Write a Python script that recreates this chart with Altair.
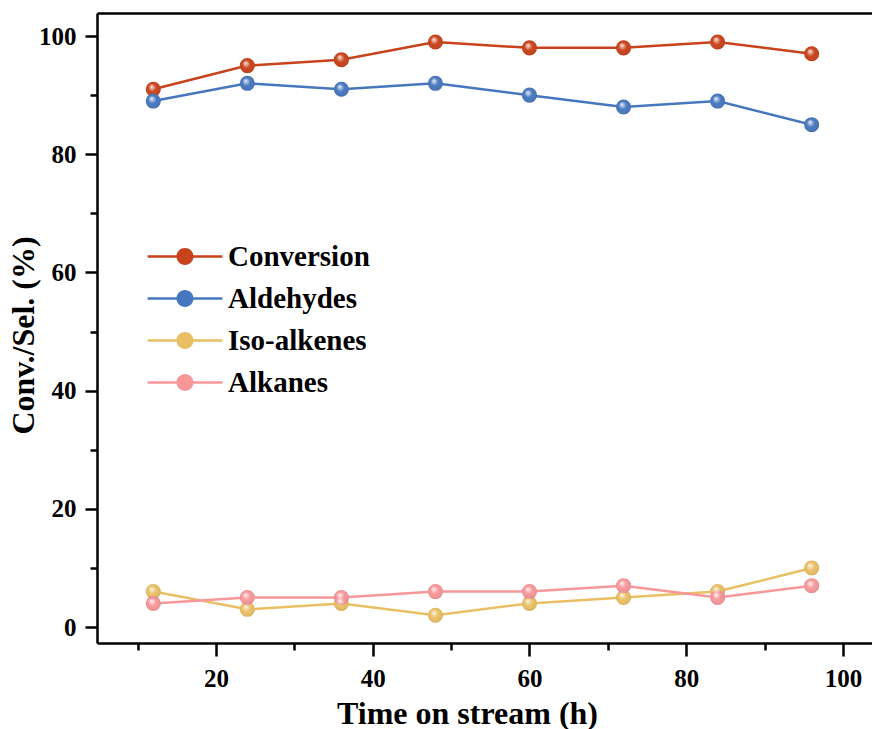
import altair as alt
import pandas as pd

# Time on stream (h) and the measured series (%)
hours = [12, 24, 36, 48, 60, 72, 84, 96]
conversion = [91, 95, 96, 99, 98, 98, 99, 97]
aldehydes = [89, 92, 91, 92, 90, 88, 89, 85]
iso_alkenes = [6, 3, 4, 2, 4, 5, 6, 10]
alkanes = [4, 5, 5, 6, 6, 7, 5, 7]

series_names = ["Conversion", "Aldehydes", "Iso-alkenes", "Alkanes"]
series_colors = ["#C8421B", "#4677BE", "#E9BF63", "#F7979A"]

x_major = [20, 40, 60, 80, 100]
x_minor = [10, 30, 50, 70, 90]
y_major = [0, 20, 40, 60, 80, 100]
y_minor = [10, 30, 50, 70, 90]

rows = []
for name, vals in zip(series_names, [conversion, aldehydes, iso_alkenes, alkanes]):
    for h, v in zip(hours, vals):
        rows.append({"hours": h, "value": v, "series": name})
df = pd.DataFrame(rows)

FONT = "Liberation Serif"

x_scale = alt.Scale(domain=[4.82, 103.7], nice=False, zero=False)
y_scale = alt.Scale(domain=[-2.7, 103.9], nice=False, zero=False)
color_scale = alt.Scale(domain=series_names, range=series_colors)

x_axis = alt.Axis(
    orient="bottom",
    values=x_major,
    tickSize=13,
    title="Time on stream (h)",
    titleX=370,
    titleY=80,
    titleBaseline="alphabetic",
    labelPadding=10,
    grid=False,
)
y_axis = alt.Axis(
    orient="left",
    values=y_major,
    tickSize=12,
    title="Conv./Sel. (%)",
    titleX=-64,
    titleY=322,
    titleBaseline="alphabetic",
    labelPadding=9,
    grid=False,
)

# Legend glyph: a short line through a disc (filled path)
legend_path = (
    "M-4.4,-0.15 H4.4 V0.15 H-4.4 Z "
    "M1,0 A1,1 0 1,1 -1,0 A1,1 0 1,1 1,0 Z"
)
legend = alt.Legend(
    title=None,
    orient="none",
    legendX=73.5,
    legendY=229,
    padding=0,
    symbolType=legend_path,
    symbolSize=289,
    symbolOpacity=1,
    symbolStrokeWidth=0,
    labelFont=FONT,
    labelFontSize=29,
    labelFontWeight="bold",
    labelColor="black",
    labelOffset=28.5,
    rowPadding=12,
    labelLimit=400,
)

lines = alt.Chart(df).mark_line(strokeWidth=2.5).encode(
    x=alt.X("hours:Q", scale=x_scale, axis=x_axis),
    y=alt.Y("value:Q", scale=y_scale, axis=y_axis),
    color=alt.Color("series:N", scale=color_scale, legend=legend),
    detail="series:N",
)

# Minor ticks and the top frame line
minor = alt.Chart(df).mark_point(opacity=0).encode(
    x=alt.X(
        "hours:Q",
        scale=x_scale,
        axis=alt.Axis(orient="bottom", values=x_minor, tickSize=7, labels=False,
                      domain=False, title=None, grid=False),
    ),
    y=alt.Y(
        "value:Q",
        scale=y_scale,
        axis=alt.Axis(orient="left", values=y_minor, tickSize=7, labels=False,
                      domain=False, title=None, grid=False),
    ),
)
frame_top = alt.Chart(df).mark_point(opacity=0).encode(
    x=alt.X(
        "hours:Q",
        scale=x_scale,
        axis=alt.Axis(orient="top", labels=False, ticks=False, title=None, grid=False),
    ),
    y=alt.Y("value:Q", scale=y_scale, axis=None),
)

points = alt.Chart(df).mark_circle(size=227, opacity=1).encode(
    x=alt.X("hours:Q", scale=x_scale, axis=None),
    y=alt.Y("value:Q", scale=y_scale, axis=None),
    color=alt.Color("series:N", scale=color_scale, legend=legend),
)

# Glossy highlight over each marker
gloss = alt.RadialGradient(
    gradient="radial",
    x1=0.38, y1=0.32, r1=0,
    x2=0.5, y2=0.5, r2=0.55,
    stops=[
        alt.GradientStop(offset=0, color="rgba(255,255,255,0.95)"),
        alt.GradientStop(offset=0.22, color="rgba(255,255,255,0.5)"),
        alt.GradientStop(offset=0.5, color="rgba(255,255,255,0)"),
        alt.GradientStop(offset=1, color="rgba(0,0,0,0.12)"),
    ],
)
highlight = alt.Chart(df).mark_circle(size=227, opacity=1, fill=gloss).encode(
    x=alt.X("hours:Q", scale=x_scale, axis=None),
    y=alt.Y("value:Q", scale=y_scale, axis=None),
)

chart = (
    alt.layer(lines, minor, frame_top, points, highlight)
    .resolve_axis(x="independent", y="independent")
    .properties(
        width=775,
        height=630,
        autosize=alt.AutoSizeParams(type="none"),
        padding={"left": 97, "top": 13, "right": 0, "bottom": 86},
    )
    .configure_view(stroke=None)
    .configure_axis(
        domainColor="black",
        domainWidth=2.5,
        tickColor="black",
        tickWidth=2.5,
        labelFont=FONT,
        labelFontSize=25,
        labelFontWeight="bold",
        labelColor="black",
        titleFont=FONT,
        titleFontSize=32,
        titleFontWeight="bold",
        titleColor="black",
    )
)

chart.save("out.html", embed_options={"renderer": "svg", "actions": False})
